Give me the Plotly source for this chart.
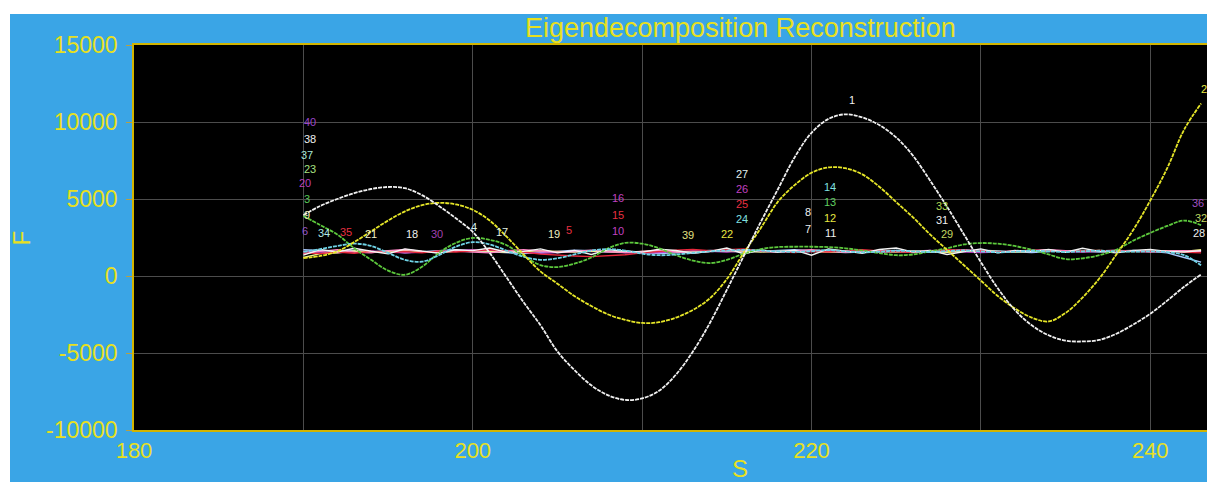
import plotly.graph_objects as go

# ---------------- data ----------------
s_values = list(range(190, 244))  # S from 190 to 243

series_1 = [3950, 4550, 5000, 5380, 5650, 5780, 5700, 5250, 4550, 3750,
            2860, 1500, -100, -1700, -3200, -4900, -6100, -7100, -7750, -8050,
            -7950, -7450, -6400, -4900, -3050, -900, 1300, 3500, 5600, 7700,
            9300, 10200, 10500, 10300, 9800, 9000, 7800, 6200, 4500, 2700,
            900, -800, -2200, -3200, -3850, -4200, -4250, -4150, -3750, -3150,
            -2450, -1600, -700, 100]

series_2 = [1170, 1300, 1600, 2200, 2900, 3600, 4200, 4600, 4750, 4650,
            4300, 3600, 2550, 1400, 300, -500, -1300, -1950, -2500, -2850,
            -3050, -3000, -2700, -2200, -1450, -200, 1500, 3100, 4800, 5900,
            6700, 7050, 7000, 6600, 5800, 4800, 3800, 2700, 1700, 700,
            -300, -1300, -2100, -2700, -2950, -2400, -1400, -150, 1400, 3000,
            4900, 7000, 9500, 11200]

series_3 = [3900, 3300, 2700, 1800, 1050, 350, 80, 600, 1500, 2150,
            2470, 2350, 2000, 1300, 710, 580, 800, 1200, 1800, 2150,
            2100, 1800, 1350, 1000, 840, 1050, 1450, 1750, 1880, 1900,
            1900, 1880, 1800, 1650, 1490, 1350, 1400, 1600, 1800, 2050,
            2140, 2100, 1950, 1700, 1400, 1100, 1150, 1350, 1700, 2300,
            2800, 3250, 3600, 3300]

series_4 = [1560, 1750, 1950, 2100, 1950, 1500, 1050, 930, 1350, 1900,
            2200, 2050, 1650, 1250, 1050, 1150, 1400, 1650, 1750, 1650,
            1450, 1350, 1400, 1500, 1600, 1650, 1700, 1650, 1600, 1560,
            1620, 1680, 1600, 1540, 1580, 1640, 1600, 1560, 1620, 1660,
            1600, 1540, 1580, 1640, 1600, 1560, 1600, 1640, 1600, 1580,
            1600, 1550, 1350, 700]

noise_white = [1350, 1720, 1560, 1800, 1610, 1450, 1760, 1600, 1480, 1700,
               1650, 1820, 1540, 1600, 1760, 1500, 1660, 1400, 1700, 1620,
               1550, 1740, 1660, 1480, 1600, 1820, 1430, 1700, 1540, 1680,
               1350, 1760, 1600, 1480, 1720, 1820, 1550, 1660, 1400, 1600,
               1760, 1500, 1660, 1600, 1720, 1540, 1800, 1600, 1500, 1660,
               1720, 1600, 1560, 1650]

noise_red = [1500, 1450, 1560, 1480, 1600, 1520, 1580, 1500, 1620, 1560,
             1640, 1700, 1620, 1560, 1420, 1350, 1300, 1260, 1300, 1380,
             1500, 1600, 1680, 1720, 1650, 1700, 1760, 1640, 1580, 1520,
             1600, 1560, 1640, 1700, 1620, 1580, 1540, 1620, 1700, 1680,
             1600, 1560, 1620, 1680, 1640, 1580, 1620, 1660, 1600, 1640,
             1620, 1580, 1560, 1500]

noise_magenta = [1600, 1540, 1500, 1580, 1620, 1560, 1500, 1540, 1600, 1660,
                 1700, 1640, 1580, 1520, 1480, 1520, 1560, 1600, 1560, 1520,
                 1480, 1520, 1580, 1640, 1600, 1560, 1620, 1600, 1560, 1540,
                 1580, 1620, 1600, 1560, 1540, 1580, 1620, 1660, 1600, 1560,
                 1520, 1560, 1600, 1640, 1620, 1580, 1560, 1600, 1640, 1620,
                 1600, 1580, 1600, 1620]

noise_blue = [1700, 1650, 1600, 1680, 1560, 1620, 1500, 1580, 1640, 1700,
              1620, 1560, 1500, 1460, 1520, 1600, 1680, 1640, 1560, 1600,
              1520, 1460, 1500, 1580, 1660, 1620, 1560, 1600, 1660, 1700,
              1640, 1580, 1520, 1560, 1620, 1660, 1600, 1540, 1580, 1640,
              1680, 1620, 1560, 1520, 1580, 1640, 1600, 1560, 1620, 1660,
              1600, 1500, 1200, 900]

noise_pink = [1450, 1600, 1700, 1550, 1500, 1650, 1720, 1600, 1540, 1620,
              1560, 1500, 1640, 1700, 1620, 1540, 1600, 1680, 1600, 1520,
              1600, 1660, 1560, 1500, 1580, 1640, 1700, 1620, 1560, 1640,
              1700, 1620, 1540, 1600, 1660, 1600, 1520, 1580, 1640, 1700,
              1620, 1560, 1600, 1660, 1700, 1640, 1580, 1620, 1680, 1600,
              1560, 1620, 1650, 1600]

noise_yellow = [1200, 1450, 1500, 1620, 1560, 1600, 1660, 1580, 1520, 1600,
                1660, 1600, 1540, 1580, 1640, 1600, 1560, 1620, 1580, 1540,
                1600, 1640, 1580, 1540, 1600, 1660, 1620, 1560, 1600, 1640,
                1600, 1540, 1580, 1640, 1600, 1560, 1620, 1580, 1540, 1600,
                1640, 1600, 1560, 1600, 1640, 1580, 1620, 1660, 1600, 1580,
                1620, 1640, 1600, 1700]

smooth_series = [series_3, series_4, series_2, series_1]
smooth_colors = ["#5cc83c", "#6fd3e6", "#e6e628", "#f0f0f0"]
noise_series = [noise_blue, noise_magenta, noise_yellow, noise_pink, noise_red, noise_white]
noise_colors = ["#a8c8ff", "#c048c8", "#f0f090", "#ff88c8", "#e8283c", "#f4f4f4"]

label_text = ["40", "38", "37", "23", "20", "3", "9", "6", "34", "35", "21", "18", "30",
              "4", "17", "19", "5", "16", "15", "10", "39", "22", "27", "26", "25", "24",
              "8", "7", "14", "13", "12", "11", "1", "33", "31", "29", "2", "36", "32", "28"]
label_x = [190.4, 190.4, 190.2, 190.4, 190.1, 190.2, 190.2, 190.1, 191.2, 192.5, 194.0, 196.4, 197.9,
           200.1, 201.7, 204.8, 205.7, 208.6, 208.6, 208.6, 212.7, 215.0, 215.9, 215.9, 215.9, 215.9,
           219.8, 219.8, 221.1, 221.1, 221.1, 221.1, 222.4, 227.7, 227.7, 228.0, 243.2, 242.8, 243.0, 242.9]
label_y = [10000, 8900, 7860, 6950, 6040, 5000, 3960, 2920, 2790, 2860, 2730, 2730, 2730,
           3180, 2860, 2730, 2990, 5060, 3960, 2920, 2660, 2730, 6620, 5650, 4680, 3700,
           4160, 3050, 5780, 4810, 3770, 2790, 11430, 4550, 3640, 2730, 12140, 4740, 3770, 2790]
label_color = ["#9b45c8", "#f0f0f0", "#a8e8d8", "#a8e080", "#b840b8", "#58c858", "#f0f0b0", "#9858c8",
               "#b0e8e8", "#e83040", "#f0f0c8", "#f0f0f0", "#a040b0", "#d8f0f0", "#e0f0e0", "#f0f0c0",
               "#e83040", "#c040c0", "#e83040", "#c040c0", "#e0e080", "#e8e840", "#e0f0f0", "#c040c0",
               "#e83040", "#80e0e0", "#f0f0f0", "#f0f0f0", "#80e0e0", "#60d060", "#e8e840", "#f0f0f0",
               "#f0f0f0", "#b0d850", "#f0f0f0", "#c0d860", "#e8e840", "#a050c0", "#c0d860", "#f0f0f0"]

x_tick_vals = [180, 200, 220, 240]
x_tick_text = ["180", "200", "220", "240"]
y_tick_vals = [-10000, -5000, 0, 5000, 10000, 15000]
y_tick_text = ["-10000", "-5000", "0", "5000", "10000", "15000"]

# ---------------- styling ----------------
BLUE = "#3aa5e6"
YELLOW = "#e8e020"
AXIS = "#d2b400"
GRID = "#4c4c4c"
FONT = "Liberation Sans, Arial, sans-serif"

fig = go.Figure()

for ys, col in zip(noise_series, noise_colors):
    fig.add_trace(go.Scatter(x=s_values, y=ys, mode="lines",
                             line=dict(color=col, width=1.4), hoverinfo="skip"))

for ys, col in zip(smooth_series, smooth_colors):
    fig.add_trace(go.Scatter(x=s_values, y=ys, mode="lines",
                             line=dict(color=col, width=1.8, shape="spline", dash="4px,1px"),
                             hoverinfo="skip"))

for t, xv, yv, c in zip(label_text, label_x, label_y, label_color):
    fig.add_annotation(x=xv, y=yv, text=t, showarrow=False,
                       font=dict(family=FONT, size=11, color=c),
                       xanchor="center", yanchor="middle")

# title and axis titles
fig.add_annotation(x=0.5648, y=1.044, xref="paper", yref="paper",
                   text="Eigendecomposition Reconstruction", showarrow=False,
                   font=dict(family=FONT, size=27, color=YELLOW),
                   xanchor="center", yanchor="middle")
fig.add_annotation(x=-0.1044, y=0.5, xref="paper", yref="paper", text="F",
                   showarrow=False, textangle=-90,
                   font=dict(family=FONT, size=24, color=YELLOW),
                   xanchor="center", yanchor="middle")
fig.add_annotation(x=0.5648, y=-0.1, xref="paper", yref="paper", text="S",
                   showarrow=False, font=dict(family=FONT, size=24, color=YELLOW),
                   xanchor="center", yanchor="middle")

# white borders at top and left (photograph framing)
fig.add_shape(type="rect", xref="paper", yref="paper", x0=-0.3, x1=1.2,
              y0=1.0805, y1=1.3, fillcolor="white", line=dict(width=0), layer="above")
fig.add_shape(type="rect", xref="paper", yref="paper", x0=-0.3, x1=-0.11556,
              y0=-0.3, y1=1.3, fillcolor="white", line=dict(width=0), layer="above")

fig.update_layout(
    width=1207, height=482,
    margin=dict(l=134, r=0, t=45, b=52),
    paper_bgcolor=BLUE, plot_bgcolor="black",
    showlegend=False,
    font=dict(family=FONT, color=YELLOW),
)
fig.update_xaxes(range=[180, 243.35], tickvals=x_tick_vals, ticktext=x_tick_text,
                 showgrid=True, gridcolor=GRID, gridwidth=1,
                 minor=dict(dtick=10, tick0=180, showgrid=True, gridcolor=GRID, gridwidth=1),
                 zeroline=False, showline=True, linecolor=AXIS, linewidth=1.5, mirror=True,
                 ticks="", tickfont=dict(family=FONT, size=22, color=YELLOW))
fig.update_yaxes(range=[-10000, 15000], tickvals=y_tick_vals, ticktext=y_tick_text,
                 showgrid=True, gridcolor=GRID, gridwidth=1,
                 zeroline=False, showline=True, linecolor=AXIS, linewidth=1.5,
                 ticks="outside", ticklen=6, tickcolor="#b8a040", ticklabelstandoff=4,
                 tickfont=dict(family=FONT, size=23, color=YELLOW))

fig.write_html("out.html", config={"displayModeBar": False},
               post_script="document.body.style.margin='0';document.body.style.overflow='hidden';")
